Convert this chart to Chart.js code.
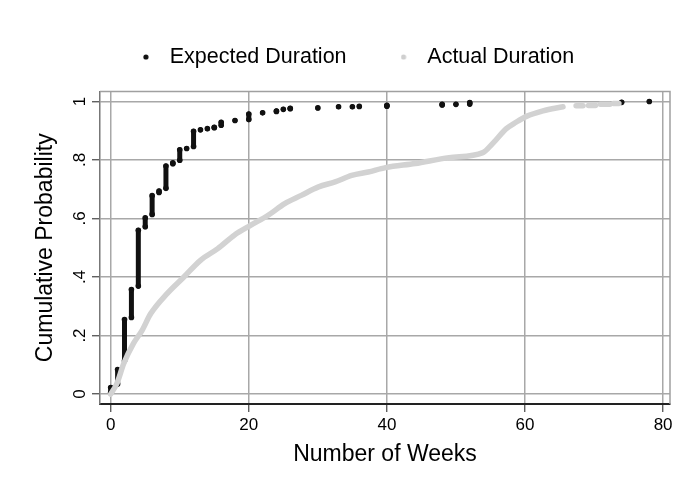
<!DOCTYPE html>
<html lang="en">
<head>
  <meta charset="UTF-8" />
  <title>Expected vs Actual Duration</title>
  <script src="https://cdn.jsdelivr.net/npm/chart.js"></script>
  <style>
    html, body { margin: 0; padding: 0; background: #fff; }
  </style>
</head>
<body>
  <canvas id="durationChart" width="699" height="483"></canvas>

  <script>
    const seriesNames = ["Expected Duration", "Actual Duration"];
    const xTicks = [0, 20, 40, 60, 80];
    const yTicks = [0, 0.2, 0.4, 0.6, 0.8, 1];
    const yTickLabels = ["0", ".2", ".4", ".6", ".8", "1"];

    // expected duration: each week and the cumulative probability range stacked on it
    const expWeeks = [0, 1, 2, 3, 4, 5, 6, 7, 8, 9, 10, 11, 12, 13, 14, 15, 16, 18, 20, 22, 24, 25, 26, 30, 33, 35, 36, 40, 48, 50, 52, 74, 78];
    const expLow  = [0.006, 0.034, 0.114, 0.262, 0.369, 0.572, 0.614, 0.689, 0.703, 0.787, 0.799, 0.839, 0.846, 0.903, 0.907, 0.910, 0.919, 0.935, 0.938, 0.961, 0.966, 0.973, 0.975, 0.978, 0.982, 0.982, 0.983, 0.984, 0.988, 0.990, 0.991, 0.997, 1.0];
    const expHigh = [0.022, 0.084, 0.255, 0.357, 0.560, 0.602, 0.678, 0.694, 0.779, 0.790, 0.835, 0.839, 0.898, 0.903, 0.907, 0.912, 0.929, 0.935, 0.957, 0.961, 0.967, 0.973, 0.977, 0.978, 0.982, 0.982, 0.983, 0.987, 0.990, 0.990, 0.996, 0.997, 1.0];

    // actual duration curve
    const actWeeks = [0, 0.9, 1.9, 3.3, 4.55, 5.8, 8.2, 10.6, 13.0, 15.5, 17.9, 20.3, 22.8, 25.2, 27.6, 30.1, 32.5, 34.9, 37.3, 39.8, 44.1, 49.0, 53.9, 55.3, 57.3, 58.7, 60.2, 62.6, 65.5];
    const actProb  = [0, 0.036, 0.105, 0.173, 0.218, 0.275, 0.344, 0.400, 0.457, 0.497, 0.543, 0.577, 0.611, 0.651, 0.679, 0.708, 0.725, 0.747, 0.759, 0.774, 0.788, 0.808, 0.825, 0.856, 0.907, 0.929, 0.949, 0.968, 0.982];
    // sparse tail of the actual curve
    const tailStart = [67.4, 69.2, 70.9, 72.8];
    const tailEnd   = [68.4, 70.2, 72.3, 73.6];
    const tailProb  = [0.985, 0.986, 0.990, 0.993];

    const font = "'Liberation Sans', Arial, sans-serif";

    const expPoints = [];
    expWeeks.forEach((w, i) => {
      expPoints.push({ x: w, y: expLow[i] });
      if (expHigh[i] !== expLow[i]) expPoints.push({ x: w, y: expHigh[i] });
      expPoints.push({ x: w, y: null });
    });

    const actPoints = actWeeks.map((w, i) => ({ x: w, y: actProb[i] }));
    tailStart.forEach((w, i) => {
      actPoints.push({ x: w, y: null });
      actPoints.push({ x: w, y: tailProb[i] });
      actPoints.push({ x: tailEnd[i], y: tailProb[i] });
    });

    function legendDot(color) {
      const c = document.createElement("canvas");
      c.width = 16; c.height = 6;
      const g = c.getContext("2d");
      g.fillStyle = color;
      g.beginPath();
      g.arc(3, 3, 2.6, 0, Math.PI * 2);
      g.fill();
      return c;
    }
    const legendDots = [legendDot("#111"), legendDot("#cfcfcf")];

    // top/right frame + legend nudge
    const frame = {
      id: "frame",
      afterLayout(chart) {
        const lg = chart.legend;
        lg.left += 23.6; lg.right += 23.6;
        lg.top -= 13.75; lg.bottom -= 13.75;
      },
      beforeDatasetsDraw(chart) {
        const { ctx, chartArea: a } = chart;
        ctx.save();
        ctx.strokeStyle = "#a0a0a0";
        ctx.lineWidth = 1.5;
        ctx.beginPath();
        ctx.moveTo(a.left, a.top);
        ctx.lineTo(a.right, a.top);
        ctx.lineTo(a.right, a.bottom);
        ctx.stroke();
        ctx.restore();
      }
    };

    new Chart(document.getElementById("durationChart"), {
      type: "scatter",
      data: {
        datasets: [
          {
            label: seriesNames[0],
            data: expPoints,
            showLine: true,
            borderColor: "#111",
            borderWidth: 5,
            borderCapStyle: "round",
            pointRadius: 2.8,
            pointBorderWidth: 0,
            pointBackgroundColor: "#111",
            pointStyle: "circle",
            order: 1
          },
          {
            label: seriesNames[1],
            data: actPoints,
            showLine: true,
            cubicInterpolationMode: "monotone",
            borderColor: "#d2d2d2",
            borderWidth: 5.5,
            borderCapStyle: "round",
            borderJoinStyle: "round",
            pointRadius: 0,
            pointBackgroundColor: "#d2d2d2",
            order: 0
          }
        ]
      },
      options: {
        responsive: false,
        animation: false,
        layout: { padding: { top: 6, right: 29, bottom: 0, left: 0 } },
        plugins: {
          tooltip: { enabled: false },
          legend: {
            position: "top",
            labels: {
              font: { family: font, size: 21.5 },
              color: "#000",
              padding: 54,
              usePointStyle: true,
              pointStyleWidth: 16,
              boxHeight: 6,
              sort: (a, b) => a.datasetIndex - b.datasetIndex,
              generateLabels(chart) {
                const items = Chart.defaults.plugins.legend.labels.generateLabels(chart);
                items.forEach(it => { it.pointStyle = legendDots[it.datasetIndex]; });
                return items;
              }
            }
          }
        },
        scales: {
          x: {
            type: "linear",
            min: -1.55,
            max: 81.0,
            afterBuildTicks: s => { s.ticks = xTicks.map(v => ({ value: v })); },
            afterFit: s => { s.height = 79; },
            ticks: { font: { family: font, size: 17 }, color: "#000", padding: 3, maxRotation: 0, autoSkip: false },
            grid: { color: "#a8a8a8", lineWidth: 1.5, tickLength: 8, tickColor: "#444", tickWidth: 1.2 },
            border: { color: "#222", width: 2 },
            title: { display: true, text: "Number of Weeks", font: { family: font, size: 23 }, color: "#000", padding: { top: 0, bottom: 15 } }
          },
          y: {
            min: -0.034,
            max: 1.034,
            afterBuildTicks: s => { s.ticks = yTicks.map(v => ({ value: v })); },
            afterFit: s => { s.width = 100; },
            ticks: {
              font: { family: font, size: 17 },
              color: "#000",
              padding: 5,
              minRotation: 90,
              maxRotation: 90,
              crossAlign: "center",
              callback: v => yTickLabels[yTicks.indexOf(v)]
            },
            grid: { color: "#a8a8a8", lineWidth: 1.5, tickLength: 8, tickColor: "#444", tickWidth: 1.2 },
            border: { color: "#777", width: 1.5 },
            title: { display: true, text: "Cumulative Probability", font: { family: font, size: 23 }, color: "#000", padding: { top: 32, bottom: 0 } }
          }
        }
      },
      plugins: [frame]
    });
  </script>
</body>
</html>
